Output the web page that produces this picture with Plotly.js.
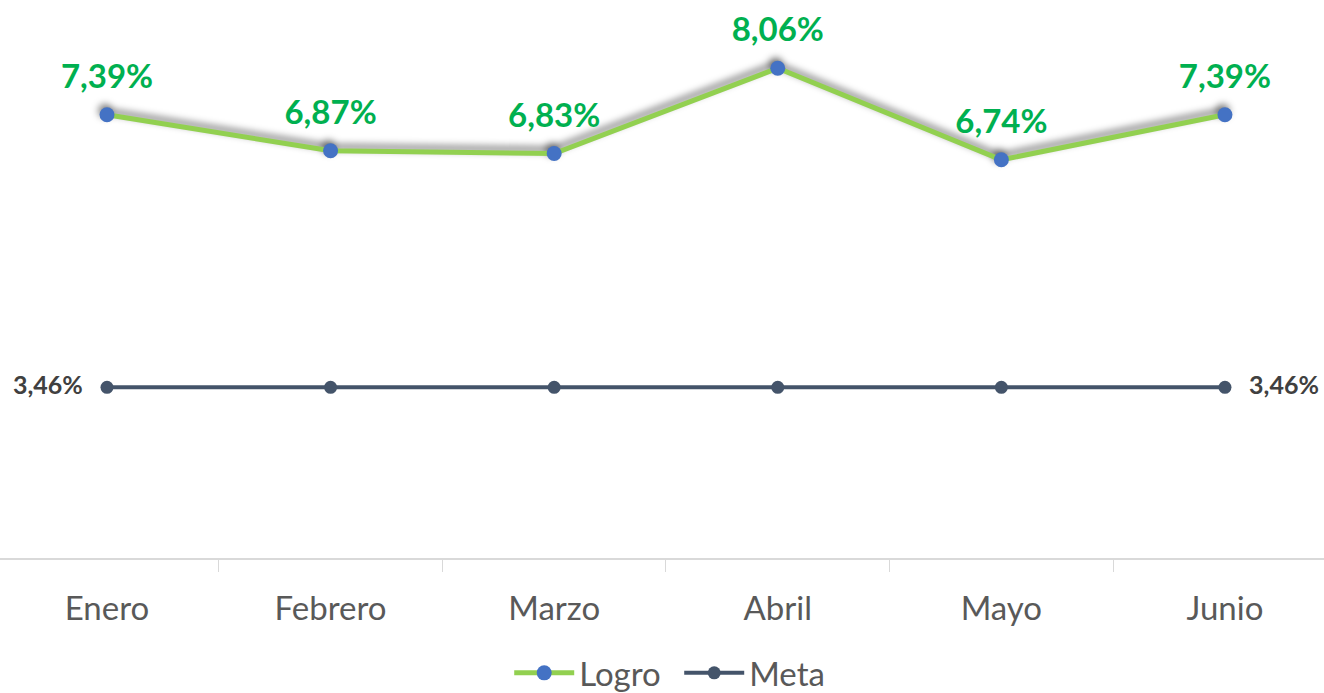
<!DOCTYPE html>
<html>
<head>
<meta charset="utf-8">
<script src="https://cdn.plot.ly/plotly-3.0.1.min.js"></script>
<style>html,body{margin:0;padding:0;background:#fff;}#chart{width:1324px;height:693px;}</style>
</head>
<body>
<div id="chart"></div>
<script>
const months = ["Enero", "Febrero", "Marzo", "Abril", "Mayo", "Junio"];
const logro = [7.39, 6.87, 6.83, 8.06, 6.74, 7.39];
const meta = [3.46, 3.46, 3.46, 3.46, 3.46, 3.46];

const fmt = v => v.toFixed(2).replace('.', ',') + '%';

const shadow = {
  x: months, y: logro, type: 'scatter', mode: 'lines+markers',
  line: {color: 'rgba(0,0,0,0.45)', width: 6},
  marker: {color: 'rgba(0,0,0,0.45)', size: 14},
  hoverinfo: 'skip', showlegend: false
};
const tLogro = {
  x: months, y: logro, type: 'scatter', mode: 'lines+markers', name: 'Logro',
  line: {color: '#92D050', width: 5},
  marker: {color: '#4472C4', size: 15}
};
const tLogroText = {
  x: months, y: logro, type: 'scatter', mode: 'markers+text', showlegend: false,
  marker: {color: 'rgba(0,0,0,0)', size: 28},
  text: logro.map(fmt), textposition: 'top center',
  textfont: {family: 'Lato, sans-serif', size: 33, color: '#00B050', weight: 'bold'},
  cliponaxis: false, hoverinfo: 'skip'
};
const tMeta = {
  x: months, y: meta, type: 'scatter', mode: 'lines+markers', name: 'Meta',
  line: {color: '#44546A', width: 4},
  marker: {color: '#44546A', size: 13}
};
const tMetaText = {
  x: months, y: meta, type: 'scatter', mode: 'markers+text', showlegend: false,
  marker: {color: 'rgba(0,0,0,0)', size: 37},
  text: meta.map((v, i) => (i === 0 || i === meta.length - 1) ? fmt(v) : ''),
  textposition: meta.map((v, i) => i === 0 ? 'middle left' : 'middle right'),
  textfont: {family: 'Lato, sans-serif', size: 25, color: '#404040', weight: 'bold'},
  cliponaxis: false, hoverinfo: 'skip'
};

const layout = {
  width: 1324, height: 693,
  margin: {l: 0, r: 0, t: 3, b: 135, autoexpand: false},
  paper_bgcolor: '#fff', plot_bgcolor: '#fff',
  font: {family: 'Lato, sans-serif', color: '#595959'},
  showlegend: true,
  legend: {orientation: 'h', x: 0.513, xanchor: 'center', y: -0.207, yanchor: 'middle',
           font: {size: 33, color: '#595959'}, itemwidth: 60, entrywidth: 95},
  xaxis: {
    type: 'category', range: [-0.4785, 5.443],
    showline: true, linecolor: '#D9D9D9', linewidth: 2,
    showgrid: false, zeroline: false,
    ticks: 'outside', tickson: 'boundaries', ticklen: 12, tickcolor: '#D9D9D9', tickwidth: 1,
    tickfont: {size: 33, color: '#595959'}, ticklabelstandoff: 20,
    fixedrange: true
  },
  yaxis: {range: [1, 9], visible: false, showgrid: false, zeroline: false, fixedrange: true}
};

Plotly.newPlot('chart', [shadow, tLogro, tLogroText, tMeta, tMetaText], layout,
  {displayModeBar: false, staticPlot: true}).then(gd => {
  const NS = 'http://www.w3.org/2000/svg';
  const svg = gd.querySelector('.main-svg');
  let defs = svg.querySelector('defs');
  if (!defs) { defs = document.createElementNS(NS, 'defs'); svg.insertBefore(defs, svg.firstChild); }
  const f = document.createElementNS(NS, 'filter');
  f.setAttribute('id', 'lineShadow');
  f.setAttribute('x', '-20%'); f.setAttribute('y', '-50%');
  f.setAttribute('width', '140%'); f.setAttribute('height', '200%');
  const blur = document.createElementNS(NS, 'feGaussianBlur');
  blur.setAttribute('stdDeviation', '3.5');
  f.appendChild(blur);
  const off = document.createElementNS(NS, 'feOffset');
  off.setAttribute('dx', '-2'); off.setAttribute('dy', '-4');
  f.appendChild(off);
  defs.appendChild(f);
  const tr = gd.querySelectorAll('.scatterlayer .trace')[0];
  if (tr) tr.setAttribute('filter', 'url(#lineShadow)');
});
</script>
</body>
</html>
